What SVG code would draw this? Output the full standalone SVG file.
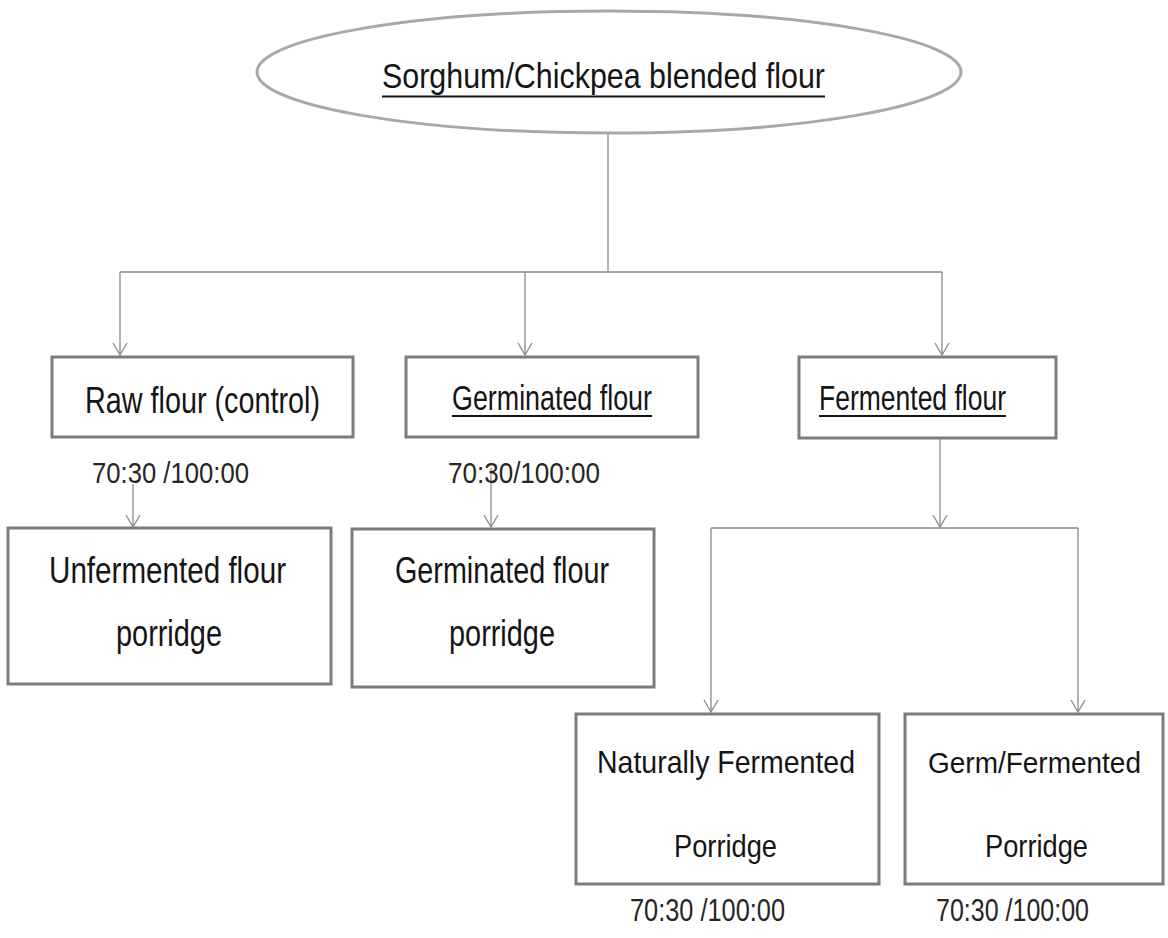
<svg xmlns="http://www.w3.org/2000/svg" width="1168" height="938" viewBox="0 0 1168 938">
  <style>
    .box { fill: #ffffff; stroke: #7c7c7c; stroke-width: 3; }
    .ell { fill: #ffffff; stroke: #a8a8a8; stroke-width: 3; }
    .conn { fill: none; stroke: #8a8a8a; stroke-width: 1.3; }
    .t { font-family: "Liberation Sans", Arial, sans-serif; fill: #151515; }
    .lbl { font-family: "Liberation Sans", Arial, sans-serif; fill: #262626; }
    .ul { stroke: #151515; stroke-width: 2.2; }
  </style>
  <defs>
    <marker id="arr" viewBox="-1 -9 14 18" refX="12" refY="0" markerWidth="14" markerHeight="18" markerUnits="userSpaceOnUse" orient="auto">
      <path d="M0,-7 L12,0 L0,7" fill="none" stroke="#8a8a8a" stroke-width="1.3"/>
    </marker>
  </defs>
  <rect width="1168" height="938" fill="#ffffff"/>

  <g id="connectors">
    <path class="conn" d="M608,133 V272"/>
    <path class="conn" d="M120,272 H942"/>
    <path class="conn" d="M120,272 V355" marker-end="url(#arr)"/>
    <path class="conn" d="M525,272 V355" marker-end="url(#arr)"/>
    <path class="conn" d="M942,272 V355" marker-end="url(#arr)"/>
    <path class="conn" d="M133,484 V527" marker-end="url(#arr)"/>
    <path class="conn" d="M491,468 V527" marker-end="url(#arr)"/>
    <path class="conn" d="M940,438 V527" marker-end="url(#arr)"/>
    <path class="conn" d="M711,528 H1078"/>
    <path class="conn" d="M711,528 V712" marker-end="url(#arr)"/>
    <path class="conn" d="M1078,528 V712" marker-end="url(#arr)"/>
  </g>

  <g id="node-root">
    <ellipse class="ell" cx="609" cy="72" rx="352" ry="61"/>
    <text class="t" x="382" y="88" font-size="35" textLength="443" lengthAdjust="spacingAndGlyphs">Sorghum/Chickpea blended flour</text>
    <line class="ul" x1="382" y1="96.5" x2="825" y2="96.5"/>
  </g>

  <g id="node-raw">
    <rect class="box" x="52" y="357" width="301" height="80"/>
    <text class="t" x="85" y="413" font-size="36" textLength="235" lengthAdjust="spacingAndGlyphs">Raw flour (control)</text>
  </g>

  <g id="node-germinated">
    <rect class="box" x="406" y="357" width="292" height="80"/>
    <text class="t" x="452" y="410" font-size="35" textLength="200" lengthAdjust="spacingAndGlyphs">Germinated flour</text>
    <line class="ul" x1="452" y1="416" x2="652" y2="416"/>
  </g>

  <g id="node-fermented">
    <rect class="box" x="799" y="357" width="257" height="81"/>
    <text class="t" x="819" y="410" font-size="35" textLength="187" lengthAdjust="spacingAndGlyphs">Fermented flour</text>
    <line class="ul" x1="819" y1="416" x2="1006" y2="416"/>
  </g>

  <g id="label-raw">
    <text class="lbl" x="92" y="483" font-size="30" textLength="157" lengthAdjust="spacingAndGlyphs">70:30 /100:00</text>
  </g>
  <g id="label-germinated">
    <text class="lbl" x="448" y="483" font-size="30" textLength="152" lengthAdjust="spacingAndGlyphs">70:30/100:00</text>
  </g>

  <g id="node-unfermented-porridge">
    <rect class="box" x="8" y="528" width="323" height="156"/>
    <text class="t" x="49" y="583" font-size="37" textLength="237" lengthAdjust="spacingAndGlyphs">Unfermented flour</text>
    <text class="t" x="116" y="646" font-size="37" textLength="106" lengthAdjust="spacingAndGlyphs">porridge</text>
  </g>

  <g id="node-germinated-porridge">
    <rect class="box" x="352" y="529" width="302" height="158"/>
    <text class="t" x="395" y="583" font-size="37" textLength="214" lengthAdjust="spacingAndGlyphs">Germinated flour</text>
    <text class="t" x="449" y="646" font-size="37" textLength="106" lengthAdjust="spacingAndGlyphs">porridge</text>
  </g>

  <g id="node-naturally-fermented">
    <rect class="box" x="576" y="714" width="303" height="170"/>
    <text class="t" x="597" y="773" font-size="32" textLength="258" lengthAdjust="spacingAndGlyphs">Naturally Fermented</text>
    <text class="t" x="674" y="857" font-size="32" textLength="103" lengthAdjust="spacingAndGlyphs">Porridge</text>
  </g>

  <g id="node-germ-fermented">
    <rect class="box" x="905" y="714" width="258" height="170"/>
    <text class="t" x="928" y="773" font-size="29" textLength="213" lengthAdjust="spacingAndGlyphs">Germ/Fermented</text>
    <text class="t" x="985" y="857" font-size="32" textLength="103" lengthAdjust="spacingAndGlyphs">Porridge</text>
  </g>

  <g id="label-naturally">
    <text class="lbl" x="630" y="921" font-size="32" textLength="155" lengthAdjust="spacingAndGlyphs">70:30 /100:00</text>
  </g>
  <g id="label-germ-fermented">
    <text class="lbl" x="936" y="921" font-size="32" textLength="153" lengthAdjust="spacingAndGlyphs">70:30 /100:00</text>
  </g>
</svg>
